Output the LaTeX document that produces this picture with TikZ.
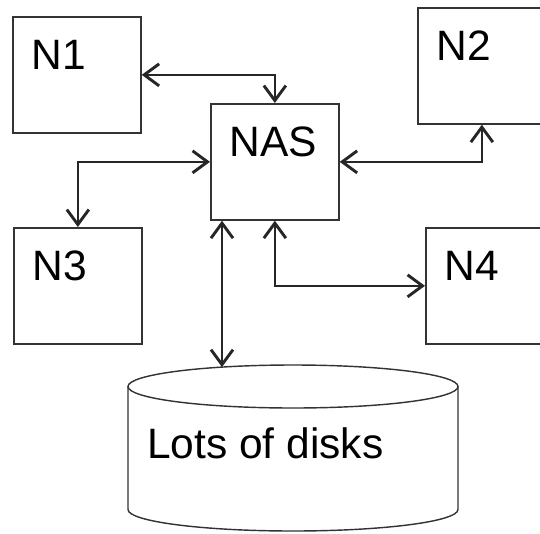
\documentclass[tikz,border=0pt]{standalone}
\usepackage{fontspec}
\setmainfont{Liberation Sans}
\usetikzlibrary{arrows.meta,calc}
\tikzset{
	box/.style={draw, rectangle, line width=0.6mm, color=black!80, text=black, anchor=north west,
		inner xsep=19pt, inner ysep=23pt, text width=90pt, text height=30pt, text depth=40pt,
		align=left, font=\fontsize{42.5}{50}\selectfont},
	barb/.tip={Straight Barb[length=15pt, width=22pt, line width=2.9pt]},
	link/.style={line width=0.5mm, color=black!85, barb-barb},
}

\begin{document}
\begin{tikzpicture}[x=1pt, y=-1pt]
			%%%%% START %%%%%
			\useasboundingbox (0, 0) rectangle (540, 533);
			
			\node[box] (n1) at (12, 16) {N1};
			\node[box] (nas) at (210, 103) {NAS};
			\node[box] (n2) at (417, 7) {N2};
			\node[box] (n3) at (13, 227) {N3};
			\node[box] (n4) at (425, 227) {N4};
			
			% disks
			\draw[line width=0.5mm, color=black!80] (128, 386.5) -- (128, 509.5) arc[start angle=180, end angle=0, x radius=165, y radius=21.5] -- (458, 386.5);
			\draw[line width=0.5mm, color=black!80] (293, 386.5) ellipse [x radius=165, y radius=21.5];
			\coordinate (disktop) at (222, 367.1);
			\node[anchor=base west, inner sep=0, font=\fontsize{42.5}{50}\selectfont] (disks) at (147, 458) {Lots of disks};
			
			\draw[link] (n1.east) -| (nas.north);
			\draw[link] (nas.west) -| (n3.north);
			\draw[link] (nas.east) -| (n2.south);
			\draw[link] (nas.south) |- (n4.west);
			\draw[link] (nas.south -| disktop) -- (disktop);
			
			%%%%% END %%%%%
\end{tikzpicture}
\end{document}
